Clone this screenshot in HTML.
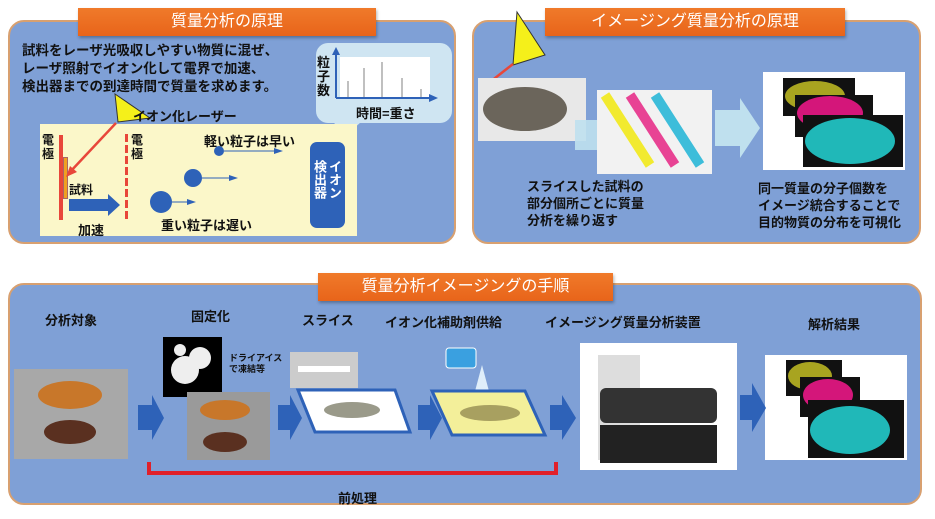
<!DOCTYPE html>
<html><head><meta charset="utf-8"><style>
*{margin:0;padding:0;box-sizing:border-box}
body{width:935px;height:519px;background:#fff;position:relative;overflow:hidden;font-family:"Liberation Sans","Noto Sans CJK JP",sans-serif;font-weight:bold;color:#111}
.a{position:absolute}
.panel{position:absolute;background:#7fa0d6;border:2px solid #d8a070;border-radius:16px}
.title{position:absolute;background:linear-gradient(#f07a2a,#e8641a);color:#fff;font-weight:normal;font-size:16px;text-align:center;line-height:28px;box-shadow:1px 2px 3px rgba(0,0,0,.3)}
.t{position:absolute;white-space:nowrap}
.arr{position:absolute;width:0;height:0}
</style></head><body>

<div class="panel" style="left:8px;top:20px;width:448px;height:224px"></div>
<div class="title" style="left:78px;top:8px;width:298px">質量分析の原理</div>
<div class="t" style="left:22px;top:42px;font-size:13.5px;line-height:18px">試料をレーザ光吸収しやすい物質に混ぜ、<br>レーザ照射でイオン化して電界で加速、<br>検出器までの到達時間で質量を求めます。</div>
<div class="a" style="left:316px;top:43px;width:136px;height:80px;background:#cfe5f2;border-radius:12px"></div>
<div class="a" style="left:340px;top:57px;width:90px;height:40px;background:#fff"></div>
<svg class="a" style="left:316px;top:43px" width="136" height="120">
<polygon points="18,79 45,79 25,97" fill="#cfe5f2"/>
<line x1="20" y1="55" x2="117" y2="55" stroke="#2e62b8" stroke-width="2"/>
<polygon points="122,55 113,51 113,59" fill="#2e62b8"/>
<line x1="20" y1="55" x2="20" y2="8" stroke="#2e62b8" stroke-width="2"/>
<polygon points="20,4 16,12 24,12" fill="#2e62b8"/>
<g stroke="#aaa" stroke-width="1.5"><line x1="32" y1="38" x2="32" y2="54"/><line x1="48" y1="25" x2="48" y2="54"/><line x1="66" y1="19" x2="66" y2="54"/><line x1="86" y1="35" x2="86" y2="54"/><line x1="105" y1="46" x2="105" y2="54"/></g>
</svg>
<div class="t" style="left:317px;top:56px;font-size:13px;line-height:14px">粒<br>子<br>数</div>
<div class="t" style="left:356px;top:103px;font-size:13px">時間=重さ</div>

<div class="a" style="left:40px;top:124px;width:317px;height:112px;background:#fbf7c9"></div>
<div class="a" style="left:59px;top:135px;width:4px;height:85px;background:#e8473a"></div>
<div class="a" style="left:63px;top:157px;width:5px;height:42px;background:#f0a020;border:1px solid #a66"></div>
<div class="t" style="left:42px;top:133px;font-size:12px;line-height:14px">電<br>極</div>
<div class="t" style="left:69px;top:181px;font-size:12px">試料</div>
<div class="a" style="left:125px;top:134px;width:3px;height:88px;background:repeating-linear-gradient(#e8473a 0 8px,transparent 8px 11px)"></div>
<div class="t" style="left:131px;top:133px;font-size:12px;line-height:14px">電<br>極</div>
<svg class="a" style="left:0;top:0" width="470" height="250">
<polygon points="115,94 150,118 118,122" fill="#f5f01a" stroke="#333" stroke-width="1"/>
<line x1="116" y1="123" x2="70" y2="172" stroke="#e8473a" stroke-width="2.5"/>
<polygon points="66,177 70,166 77,172" fill="#e8473a"/>
<polygon points="69,199 108,199 108,194 120,205 108,216 108,211 69,211" fill="#2e62b8"/>
<circle cx="219" cy="151" r="5" fill="#2e62b8"/><line x1="224" y1="151" x2="275" y2="151" stroke="#2e62b8"/><polygon points="283,151 274,148 274,154" fill="#2e62b8"/>
<circle cx="193" cy="178" r="9" fill="#2e62b8"/><line x1="202" y1="178" x2="230" y2="178" stroke="#2e62b8"/><polygon points="238,178 229,175 229,181" fill="#2e62b8"/>
<circle cx="161" cy="202" r="11" fill="#2e62b8"/><line x1="172" y1="202" x2="188" y2="202" stroke="#2e62b8"/><polygon points="196,202 187,199 187,205" fill="#2e62b8"/>
</svg>
<div class="t" style="left:133px;top:106px;font-size:13px">イオン化レーザー</div>
<div class="t" style="left:204px;top:131px;font-size:13px">軽い粒子は早い</div>
<div class="t" style="left:161px;top:215px;font-size:13px">重い粒子は遅い</div>
<div class="t" style="left:78px;top:220px;font-size:13px">加速</div>
<div class="a" style="left:310px;top:142px;width:35px;height:86px;background:#2e62b8;border-radius:7px"></div>
<div class="t" style="left:312px;top:160px;font-size:13px;line-height:15px;color:#fff;writing-mode:vertical-rl">イオン<br>検出器</div>

<div class="panel" style="left:472px;top:20px;width:449px;height:224px"></div>
<div class="title" style="left:545px;top:8px;width:300px">イメージング質量分析の原理</div>
<svg class="a" style="left:465px;top:0" width="470" height="250">
<polygon points="52,12 80,55 48,65" fill="#f5f01a" stroke="#333"/>
<line x1="48" y1="64" x2="25" y2="82" stroke="#e8473a" stroke-width="2.5"/>
<rect x="13" y="78" width="108" height="63" fill="#e8e8e8"/>
<ellipse cx="60" cy="109" rx="42" ry="22" fill="#6b655b"/>
<polygon points="110,120 150,120 150,105 175,140 150,170 150,150 110,150" fill="#bfe0ee" opacity=".9"/>
<rect x="132" y="90" width="115" height="84" fill="#f2f2f2"/>
<g stroke-width="10" opacity=".9"><line x1="140" y1="95" x2="185" y2="165" stroke="#f2ea1a"/><line x1="165" y1="95" x2="210" y2="165" stroke="#e8318a"/><line x1="190" y1="95" x2="235" y2="165" stroke="#2ab8d8"/></g>
<polygon points="250,110 275,110 275,98 295,128 275,158 275,146 250,146" fill="#bfe0ee"/>
<rect x="298" y="72" width="142" height="98" fill="#fff"/>
<rect x="318" y="78" width="72" height="38" fill="#111"/><ellipse cx="350" cy="96" rx="30" ry="15" fill="#a8a420"/>
<rect x="330" y="95" width="78" height="42" fill="#111"/><ellipse cx="365" cy="113" rx="33" ry="17" fill="#d4167a"/>
<rect x="338" y="115" width="100" height="52" fill="#111"/><ellipse cx="385" cy="141" rx="45" ry="23" fill="#20b8b8"/>
</svg>
<div class="t" style="left:527px;top:178px;font-size:13px;line-height:17px">スライスした試料の<br>部分個所ごとに質量<br>分析を繰り返す</div>
<div class="t" style="left:758px;top:180px;font-size:13px;line-height:17px">同一質量の分子個数を<br>イメージ統合することで<br>目的物質の分布を可視化</div>

<div class="panel" style="left:8px;top:283px;width:914px;height:222px"></div>
<div class="title" style="left:318px;top:273px;width:295px">質量分析イメージングの手順</div>
<div class="t" style="left:45px;top:310px;font-size:13px">分析対象</div>
<div class="t" style="left:191px;top:306px;font-size:13px">固定化</div>
<div class="t" style="left:302px;top:310px;font-size:13px">スライス</div>
<div class="t" style="left:385px;top:312px;font-size:13px">イオン化補助剤供給</div>
<div class="t" style="left:545px;top:312px;font-size:13px">イメージング質量分析装置</div>
<div class="t" style="left:808px;top:314px;font-size:13px">解析結果</div>
<div class="t" style="left:229px;top:353px;font-size:9px;line-height:11px">ドライアイス<br>で凍結等</div>
<svg class="a" style="left:0;top:270px" width="935" height="249">
<rect x="14" y="99" width="114" height="90" fill="#a8a8a8"/><ellipse cx="70" cy="125" rx="32" ry="14" fill="#c8772a"/><ellipse cx="70" cy="162" rx="26" ry="12" fill="#5a3020"/>
<rect x="163" y="67" width="59" height="60" fill="#000"/><circle cx="185" cy="100" r="14" fill="#eee"/><circle cx="200" cy="88" r="11" fill="#eee"/><circle cx="180" cy="80" r="6" fill="#eee"/>
<rect x="187" y="122" width="83" height="68" fill="#9a9a9a"/><ellipse cx="225" cy="140" rx="25" ry="10" fill="#c8772a"/><ellipse cx="225" cy="172" rx="22" ry="10" fill="#5a3020"/>
<rect x="290" y="82" width="68" height="36" fill="#ccc"/><rect x="298" y="96" width="52" height="6" fill="#fff"/>
<polygon points="298,120 395,120 410,162 315,162" fill="#fff" stroke="#2e62b8" stroke-width="3"/><ellipse cx="352" cy="140" rx="28" ry="8" fill="#9a9a8a"/>
<rect x="446" y="78" width="30" height="20" rx="3" fill="#3aa0e0" stroke="#fff"/><polygon points="482,95 490,125 474,125" fill="#dfeefa"/>
<polygon points="432,121 525,121 545,165 452,165" fill="#f3ef9a" stroke="#2e62b8" stroke-width="3"/><ellipse cx="490" cy="143" rx="30" ry="8" fill="#a8a060"/>
<rect x="580" y="73" width="157" height="127" fill="#fff"/><rect x="598" y="85" width="42" height="105" fill="#ddd"/><rect x="600" y="118" width="117" height="35" rx="6" fill="#333"/><rect x="600" y="155" width="117" height="38" fill="#222"/>
<rect x="765" y="85" width="142" height="105" fill="#fff"/>
<rect x="786" y="90" width="56" height="36" fill="#111"/><ellipse cx="810" cy="106" rx="22" ry="14" fill="#a8a420"/>
<rect x="800" y="107" width="60" height="40" fill="#111"/><ellipse cx="828" cy="125" rx="25" ry="16" fill="#d4167a"/>
<rect x="808" y="130" width="96" height="58" fill="#111"/><ellipse cx="850" cy="160" rx="40" ry="24" fill="#20b8b8"/>
<g fill="#2e62b8">
<polygon points="138,135 152,135 152,125 164,148 152,170 152,160 138,160"/>
<polygon points="278,135 290,135 290,125 302,148 290,170 290,160 278,160"/>
<polygon points="418,135 430,135 430,125 442,148 430,170 430,160 418,160"/>
<polygon points="550,135 562,135 562,125 576,148 562,170 562,160 550,160"/>
<polygon points="740,125 752,125 752,113 766,138 752,162 752,150 740,150"/>
</g>
<path d="M149,192 V203 H556 V192" fill="none" stroke="#e0202a" stroke-width="4"/>
</svg>
<div class="t" style="left:338px;top:488px;font-size:13px">前処理</div>
</body></html>
